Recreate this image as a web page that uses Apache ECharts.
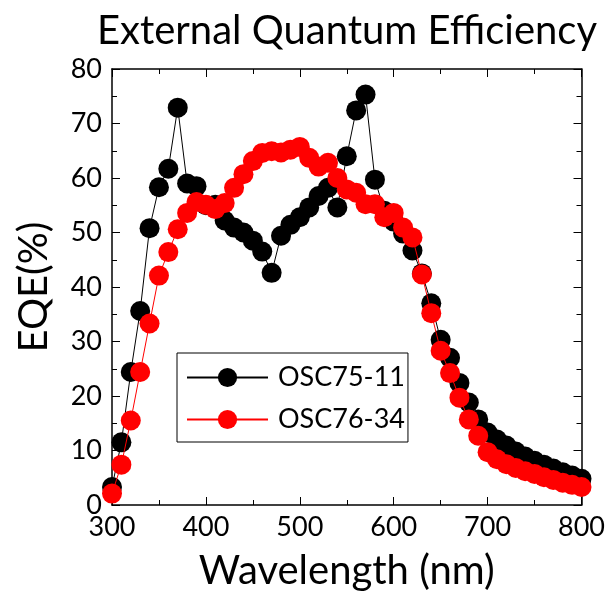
<!DOCTYPE html>
<html>
<head>
<meta charset="utf-8">
<script src="https://cdn.jsdelivr.net/npm/echarts@6/dist/echarts.min.js"></script>
<style>
html,body{margin:0;padding:0;background:#fff;}
#chart{width:608px;height:596px;}
</style>
</head>
<body>
<div id="chart"></div>
<script>
// 波长 (nm)
var wavelengths = [300,310,320,330,340,350,360,370,380,390,400,410,420,430,440,450,460,470,480,490,
    500,510,520,530,540,550,560,570,580,590,600,610,620,630,640,650,660,670,680,690,
    700,710,720,730,740,750,760,770,780,790,800];
// OSC75-11
var osc7511 = [3.3,11.5,24.4,35.6,50.8,58.3,61.7,72.9,59.0,58.5,55.0,55.1,52.2,50.9,50.0,48.5,46.5,42.6,49.4,51.4,
    52.8,54.6,56.7,58.2,54.6,64.0,72.4,75.3,59.7,54.0,52.0,49.8,46.7,42.5,37.0,30.3,27.0,22.4,18.8,15.7,
    13.3,12.0,10.9,9.8,8.9,8.1,7.4,6.7,6.0,5.4,4.8];
// OSC76-34
var osc7634 = [2.1,7.4,15.5,24.4,33.3,42.1,46.4,50.6,53.6,55.6,55.1,54.3,55.4,58.2,60.7,63.1,64.6,64.9,64.7,65.2,
    65.7,63.7,62.1,62.8,60.0,57.9,57.3,55.2,55.2,52.8,53.6,50.9,49.1,42.3,35.2,28.3,24.2,19.7,15.7,12.7,
    9.7,8.4,7.5,6.8,6.2,5.7,5.1,4.6,4.1,3.7,3.3];
var seriesNames = ['OSC75-11','OSC76-34'];

var FONT = 'Lato';

function pairs(vals){
    return wavelengths.map(function(w,i){ return [w, vals[i]]; });
}

var chart = echarts.init(document.getElementById('chart'));

var axisBase = {
    axisLine:{show:true, onZero:false, lineStyle:{color:'#000', width:1.5}},
    axisTick:{show:true, inside:true, length:8, lineStyle:{color:'#000', width:1}},
    minorTick:{show:true, splitNumber:2, length:5, lineStyle:{color:'#000', width:1}},
    splitLine:{show:false}
};

var option = {
    animation:false,
    backgroundColor:'#fff',
    title:{
        text:'External Quantum Efficiency',
        left:342, top:6, textAlign:'center',
        textStyle:{fontFamily:FONT, fontSize:40, fontWeight:'normal', color:'#000'}
    },
    grid:{left:112, right:26, top:69, bottom:88},
    legend:{
        orient:'vertical',
        left:177, top:353,
        padding:[11,3,9,9],
        itemWidth:81, itemHeight:24, itemGap:15,
        borderColor:'#000', borderWidth:1,
        textStyle:{fontFamily:FONT, fontSize:27, color:'#000', padding:[0,0,0,5]},
        data:seriesNames
    },
    xAxis:[
        Object.assign({}, axisBase, {
            type:'value', min:300, max:800, interval:100,
            name:'Wavelength (nm)', nameLocation:'middle', nameGap:46,
            nameTextStyle:{fontFamily:FONT, fontSize:40, color:'#000'},
            axisLabel:{fontFamily:FONT, fontSize:27, color:'#000', margin:9}
        }),
        Object.assign({}, axisBase, {
            type:'value', min:300, max:800, interval:100, position:'top',
            axisLabel:{show:false}
        })
    ],
    yAxis:[
        Object.assign({}, axisBase, {
            type:'value', min:0, max:80, interval:10,
            name:'EQE(%)', nameLocation:'middle', nameGap:58,
            nameTextStyle:{fontFamily:FONT, fontSize:40, color:'#000'},
            axisLabel:{fontFamily:FONT, fontSize:27, color:'#000', margin:10}
        }),
        Object.assign({}, axisBase, {
            type:'value', min:0, max:80, interval:10, position:'right',
            axisLabel:{show:false}
        })
    ],
    series:[
        {
            name:seriesNames[0], type:'line',
            data:pairs(osc7511),
            symbol:'circle', symbolSize:20,
            itemStyle:{color:'#000'},
            lineStyle:{color:'#000', width:1},
            z:2
        },
        {
            name:seriesNames[1], type:'line',
            data:pairs(osc7634),
            symbol:'circle', symbolSize:20,
            itemStyle:{color:'#ff0000'},
            lineStyle:{color:'#ff0000', width:1},
            z:3
        }
    ]
};
chart.setOption(option);
</script>
</body>
</html>
